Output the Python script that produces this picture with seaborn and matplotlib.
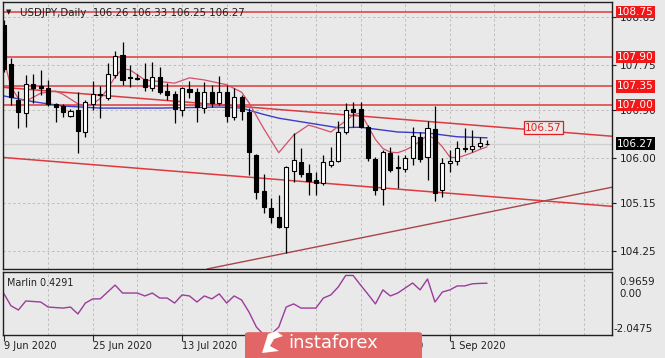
import numpy as np
import pandas as pd
import matplotlib.pyplot as plt
import seaborn as sns
from matplotlib.patches import FancyBboxPatch, Polygon

# daily candles, 9 Jun 2020 .. 8 Sep 2020
opens = [108.50, 107.77, 107.09, 106.85, 107.39, 107.35, 107.32, 107.02, 106.98, 106.79,
         106.90, 106.49, 107.02, 107.20, 107.13, 107.56, 107.94, 107.52, 107.50, 107.49,
         107.32, 107.53, 107.26, 107.20, 106.90, 107.30, 107.24, 106.94, 107.24, 107.04,
         107.24, 106.77, 107.15, 106.87, 106.06, 105.38, 105.06, 104.89, 104.70, 105.76,
         105.92, 105.72, 105.59, 105.53, 105.87, 105.94, 106.49, 106.92, 106.92, 106.58,
         105.98, 105.42, 106.09, 105.83, 105.79, 106.00, 106.39, 106.02, 106.55, 105.40,
         105.91, 105.94, 106.19, 106.17, 106.23, 106.26]
highs = [108.60, 107.88, 107.26, 107.56, 107.58, 107.66, 107.47, 107.04, 107.02, 106.92,
         107.24, 107.09, 107.45, 107.35, 107.79, 108.02, 108.19, 107.75, 107.58, 107.79,
         107.81, 107.71, 107.41, 107.26, 107.34, 107.45, 107.32, 107.43, 107.38, 107.54,
         107.38, 107.32, 107.19, 106.94, 106.08, 105.70, 105.25, 105.30, 105.85, 106.47,
         106.19, 105.89, 105.74, 106.06, 106.21, 106.70, 107.04, 107.06, 107.06, 106.62,
         106.02, 106.15, 106.21, 106.06, 106.06, 106.58, 106.49, 106.70, 106.98, 106.00,
         106.15, 106.32, 106.56, 106.53, 106.40, 106.33]
lows = [107.62, 107.00, 106.57, 106.58, 107.04, 107.19, 106.98, 106.68, 106.77, 106.77,
        106.10, 106.40, 106.90, 106.75, 107.09, 107.51, 107.38, 107.34, 107.47, 107.26,
        107.26, 107.20, 107.09, 106.66, 106.79, 107.13, 106.68, 106.85, 106.96, 107.00,
        106.68, 106.72, 106.72, 105.68, 105.23, 104.96, 104.78, 104.68, 104.21, 105.55,
        105.64, 105.30, 105.30, 105.49, 105.83, 105.92, 106.45, 106.58, 106.56, 105.94,
        105.30, 105.11, 105.74, 105.43, 105.74, 105.87, 105.92, 105.59, 105.19, 105.27,
        105.74, 105.87, 106.11, 106.11, 106.19, 106.25]
closes = [107.68, 107.15, 106.87, 107.39, 107.32, 107.32, 107.02, 106.96, 106.87, 106.89,
          106.51, 107.05, 107.21, 107.18, 107.58, 107.92, 107.47, 107.50, 107.49, 107.34,
          107.53, 107.24, 107.19, 106.92, 107.32, 107.24, 106.96, 107.24, 107.04, 107.24,
          106.79, 107.15, 106.88, 106.11, 105.36, 105.08, 104.89, 104.70, 105.83, 105.96,
          105.70, 105.57, 105.53, 105.92, 105.94, 106.49, 106.90, 106.87, 106.58, 106.00,
          105.40, 106.11, 105.77, 105.81, 106.00, 106.41, 105.98, 106.56, 105.34, 105.91,
          105.94, 106.19, 106.17, 106.23, 106.28, 106.27]

# moving averages (sampled along the drawn curves)
blue_ma_bar = [0, 4, 8, 13, 21, 29, 32, 35, 37, 41, 45, 48, 53, 57, 61, 65]
blue_ma = [107.17, 107.06, 106.98, 106.94, 106.94, 106.96, 106.94, 106.82, 106.75, 106.66,
           106.57, 106.58, 106.49, 106.47, 106.40, 106.38]
red_ma_bar = [0, 1, 2, 3, 5, 7, 8, 10, 11, 12, 13, 14, 15, 16, 17, 19, 23, 25, 27, 30, 32,
              33, 35, 37, 39, 41, 42, 44, 46, 47, 48, 49, 50, 51, 52, 53, 54, 55, 56, 57,
              58, 59, 60, 61, 62, 63, 64, 65]
red_ma = [107.88, 107.34, 107.12, 107.07, 107.22, 107.26, 107.20, 107.02, 106.98, 107.02,
          107.12, 107.30, 107.53, 107.68, 107.66, 107.47, 107.41, 107.51, 107.47, 107.38,
          107.24, 107.04, 106.55, 106.10, 106.43, 106.62, 106.58, 106.49, 106.70, 106.81,
          106.85, 106.60, 106.35, 106.18, 106.11, 106.10, 106.15, 106.22, 106.32, 106.43,
          106.36, 106.21, 106.02, 106.00, 106.05, 106.10, 106.16, 106.21]

# Marlin oscillator
marlin_bar = [0, 1, 2, 3, 5, 6, 8, 9, 10, 11, 12, 13, 15, 16, 18, 19, 20, 21, 22, 23, 24,
              25, 26, 27, 28, 29, 30, 31, 32, 33, 34, 35, 36, 37, 38, 39, 40, 42, 43, 44,
              45, 46, 47, 48, 49, 50, 51, 52, 53, 55, 56, 57, 58, 59, 60, 61, 62, 63, 64, 65]
marlin = [-0.04, -0.65, -0.85, -0.42, -0.47, -0.71, -0.76, -0.71, -1.04, -0.52, -0.32,
          -0.32, 0.34, -0.04, -0.04, -0.18, -0.04, -0.28, -0.28, -0.52, -0.13, -0.18,
          -0.47, -0.18, -0.32, -0.08, -0.52, -0.18, -0.37, -0.95, -1.67, -2.04, -2.0,
          -1.67, -0.71, -0.56, -0.76, -0.76, -0.28, -0.13, 0.25, 0.80, 0.80, 0.34, -0.10,
          -0.56, 0.11, -0.18, -0.04, 0.44, 0.11, 0.63, -0.47, 0.01, 0.11, 0.30, 0.30, 0.40,
          0.42, 0.4291]

levels = [108.75, 107.90, 107.35, 107.00]
price_ticks = [108.65, 107.75, 106.90, 106.00, 105.15, 104.25]
date_bars = [0, 12, 24, 36, 48, 60]
date_labels = ['9 Jun 2020', '25 Jun 2020', '13 Jul 2020', '29 Jul 2020', '14 Aug 2020', '1 Sep 2020']

# trend lines (bar, price)
upper_line = ([0, 81.8], [107.33, 106.41])
lower_line = ([0, 81.8], [106.01, 105.09])
rising_line = ([27.35, 81.8], [103.91, 105.45])

bg = '#e9e9e9'
sns.set_style('ticks', rc={'axes.facecolor': bg, 'figure.facecolor': bg,
                           'axes.edgecolor': '#202020'})
plt.rcParams['font.family'] = ['DejaVu Sans']

W, H = 665, 358
fig = plt.figure(figsize=(W / 100, H / 100), dpi=100)

def px_box(x0, y0, x1, y1):
    return [x0 / W, 1 - y1 / H, (x1 - x0) / W, (y1 - y0) / H]

ax = fig.add_axes(px_box(2.7, 2, 612, 269))
ax2 = fig.add_axes(px_box(2.7, 272, 612, 335))

df = pd.DataFrame({'o': opens, 'h': highs, 'l': lows, 'c': closes})
df['bar'] = np.arange(len(df))
up = df['c'] >= df['o']

xmin, xmax = -0.11, 81.8
grid_bars = np.arange(6, 80, 6)
for a in (ax, ax2):
    for g in grid_bars:
        a.axvline(g, color='#bdbdbd', lw=0.7, ls=(0, (2.5, 2.5)), zorder=0)
for t in price_ticks:
    ax.axhline(t, color='#bdbdbd', lw=0.7, ls=(0, (2.5, 2.5)), zorder=0)
ax.axhline(closes[-1], color='#cfcfcf', lw=0.9, zorder=0)

# levels and trend lines
for lv in levels:
    ax.axhline(lv, color='#de3a3e', lw=1.1, zorder=1)
ax.plot(*upper_line, color='#de3a3e', lw=1.1, zorder=1)
ax.plot(*lower_line, color='#de3a3e', lw=1.1, zorder=1)
ax.plot(*rising_line, color='#a8454a', lw=1.0, zorder=1)

# moving averages
sns.lineplot(x=blue_ma_bar, y=blue_ma, ax=ax, color='#3c3cc8', lw=1.0, zorder=2)
sns.lineplot(x=red_ma_bar, y=red_ma, ax=ax, color='#d2506a', lw=0.9, zorder=2)

# candles
ax.vlines(df['bar'], df['l'], df['h'], color='black', lw=0.9, zorder=3)
body_lo = np.minimum(df['o'], df['c'])
body_h = (df['c'] - df['o']).abs()
ax.bar(df['bar'][up], body_h[up], bottom=body_lo[up], width=0.55,
       color='white', edgecolor='black', lw=0.8, zorder=4)
ax.bar(df['bar'][~up], body_h[~up], bottom=body_lo[~up], width=0.55,
       color='black', edgecolor='black', lw=0.8, zorder=4)

ax.set_xlim(xmin, xmax)
ax.set_ylim(103.91, 108.938)
ax.set_xticks([])
ax.yaxis.tick_right()
ax.set_yticks(price_ticks)
ax.set_yticklabels([f'{t:.2f}' for t in price_ticks])
ax.tick_params(axis='y', length=3, width=0.8, pad=3, labelsize=7.6, colors='#202020')
ax.set_xlabel('')
ax.set_ylabel('')

yt = ax.get_yaxis_transform()
for lv in levels:
    ax.text(1.0085, lv, f'{lv:.2f}', transform=yt, ha='left', va='center', fontsize=7.6,
            color='white', clip_on=False, zorder=6,
            bbox=dict(boxstyle='square,pad=0.12', fc='#f01818', ec='none'))
ax.text(1.0085, closes[-1], f'{closes[-1]:.2f}', transform=yt, ha='left', va='center',
        fontsize=7.6, color='white', clip_on=False, zorder=6,
        bbox=dict(boxstyle='square,pad=0.12', fc='black', ec='none'))
ax.text(70.1, 106.57, '106.57', ha='left', va='center', fontsize=7.6, color='#e02020',
        zorder=6, bbox=dict(boxstyle='square,pad=0.12', fc=bg, ec='#e02020', lw=0.9))

for s in ax.spines.values():
    s.set_linewidth(1.0)

# oscillator panel
sns.lineplot(x=marlin_bar, y=marlin, ax=ax2, color='#9b3c9b', lw=1.0)
ax2.set_xlim(xmin, xmax)
ax2.set_ylim(-2.0475, 0.9659)
ax2.set_yticks([])
ax2.set_xticks(date_bars)
ax2.set_xticklabels([])
ax2.tick_params(axis='x', length=4, width=0.8, direction='out')
ax2.set_xlabel('')
ax2.set_ylabel('')
for s in ax2.spines.values():
    s.set_linewidth(1.0)
xt = ax2.get_xaxis_transform()
for b, lab in zip(date_bars, date_labels):
    ax2.text(b, -0.1, lab, transform=xt, ha='left', va='top', fontsize=7.0, color='#202020')

fig.text(619 / W, 1 - 282 / H, '0.9659', ha='left', va='center', fontsize=7.4, color='#202020')
fig.text(619 / W, 1 - 294 / H, '0.00', ha='left', va='center', fontsize=7.4, color='#202020')
fig.text(614 / W, 1 - 329 / H, '-2.0475', ha='left', va='center', fontsize=7.4, color='#202020')
fig.text(7 / W, 1 - 283 / H, 'Marlin 0.4291', ha='left', va='center', fontsize=6.9, color='#202020')

fig.text(6 / W, 1 - 12 / H, '\u25bc', ha='left', va='center', fontsize=5, color='#202020')
fig.text(20 / W, 1 - 12.5 / H, 'USDJPY,Daily  106.26 106.33 106.25 106.27', ha='left',
         va='center', fontsize=7.4, color='#202020')

# watermark
logo = FancyBboxPatch((245 / W, -0.02), 177 / W, 33 / H, transform=fig.transFigure,
                      boxstyle='round,pad=0,rounding_size=0.006', fc='#e26666', ec='none',
                      zorder=10)
fig.patches.append(logo)
icon = Polygon([(262 / W, 1 - 353 / H), (268 / W, 1 - 334 / H), (276 / W, 1 - 331 / H),
                (283 / W, 1 - 336 / H), (274 / W, 1 - 339 / H), (270 / W, 1 - 346 / H),
                (279 / W, 1 - 351 / H)], closed=True, transform=fig.transFigure,
               fc='white', ec='none', zorder=11)
fig.patches.append(icon)
fig.text(333 / W, 1 - 343 / H, 'instaforex', ha='center', va='center', fontsize=13,
         color='white', zorder=11)

fig.savefig('out.png', dpi=100, facecolor=bg)
